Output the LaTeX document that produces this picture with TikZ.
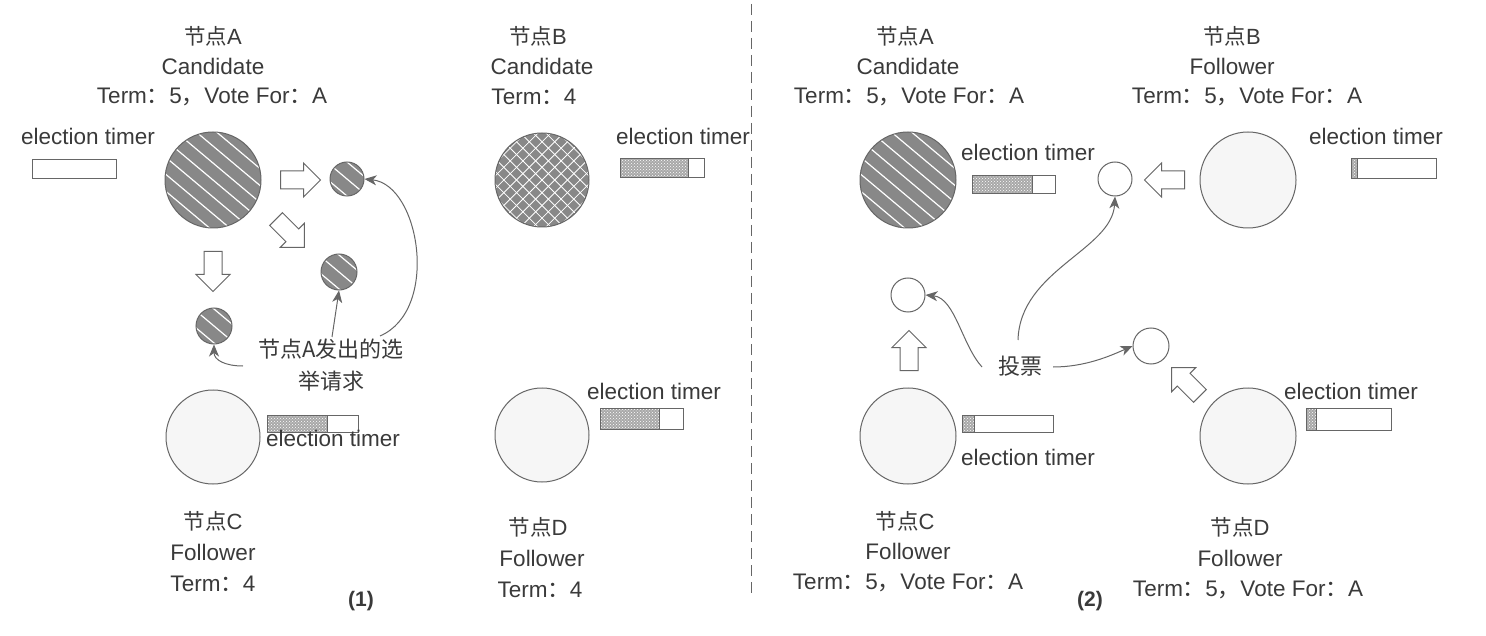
\documentclass[tikz,border=0pt]{standalone}
\usepackage{fontspec}
\setmainfont{Liberation Sans}
\newfontfamily\cjk{Noto Sans CJK SC}
\usetikzlibrary{shapes.arrows,arrows.meta,calc,patterns}
\definecolor{ink}{HTML}{3A3A3A}
\definecolor{edge}{HTML}{666666}
\definecolor{hatchgray}{HTML}{888888}
\definecolor{lightfill}{HTML}{F6F6F6}
\definecolor{barfill}{HTML}{A8A8A8}
\newcommand\zcolon{{\cjk ：}}
\newcommand\zcomma{{\cjk ，}}
\newcommand\jiedian{{\cjk\fontsize{21.5}{25}\selectfont 节点}}
\begin{document}
\begin{tikzpicture}[x=1pt,y=-1pt,
  txt/.style={text=ink, font=\fontsize{22.5}{26}\selectfont, inner sep=0pt},
  ttl/.style={text=ink, font=\fontsize{22}{25}\selectfont, inner sep=0pt},
  cn/.style={txt, font=\fontsize{22}{26}\selectfont\cjk},
  num/.style={text=ink, font=\fontsize{21}{24}\selectfont\bfseries, inner sep=0pt},
  hatched/.style={circle, draw=edge, line width=1pt, inner sep=0pt, minimum size=#1,
    path picture={
      \fill[hatchgray] (path picture bounding box.north west) rectangle (path picture bounding box.south east);
      \begin{scope}[shift={(path picture bounding box.center)}]
        \foreach \i in {-6,...,6}{
          \draw[white, line width=1.2pt] ({\i*13*(-0.643)-80*0.766},{\i*13*0.766-80*0.643}) -- ({\i*13*(-0.643)+80*0.766},{\i*13*0.766+80*0.643});
        }
      \end{scope}}},
  crossed/.style={circle, draw=edge, line width=1pt, inner sep=0pt, minimum size=#1,
    path picture={
      \fill[hatchgray] (path picture bounding box.north west) rectangle (path picture bounding box.south east);
      \begin{scope}[shift={(path picture bounding box.center)}]
        \foreach \i in {-8,...,8}{
          \draw[white, line width=0.8pt] ({\i*9*0.707-80*0.707},{\i*9*(-0.707)-80*0.707}) -- ({\i*9*0.707+80*0.707},{\i*9*(-0.707)+80*0.707});
          \draw[white, line width=0.8pt] ({\i*9*0.707-80*0.707},{\i*9*0.707+80*0.707}) -- ({\i*9*0.707+80*0.707},{\i*9*0.707-80*0.707});
        }
      \end{scope}}},
  plain/.style={circle, draw=edge, line width=1pt, fill=lightfill, inner sep=0pt, minimum size=#1},
  bar/.style={draw=edge, line width=1pt, fill=white, inner sep=0pt, minimum width=84pt, minimum height=19pt,
    path picture={
      \fill[barfill] (path picture bounding box.north west) rectangle ($(path picture bounding box.south west)!#1!(path picture bounding box.south east)$);
      \fill[pattern=crosshatch dots, pattern color=white] (path picture bounding box.north west) rectangle ($(path picture bounding box.south west)!#1!(path picture bounding box.south east)$);
      \draw[edge, line width=1pt] ($(path picture bounding box.north west)!#1!(path picture bounding box.north east)$) -- ($(path picture bounding box.south west)!#1!(path picture bounding box.south east)$);}},
  barrow/.style={single arrow, draw=edge, fill=white, line width=1pt, minimum height=40pt,
    single arrow head extend=8pt, single arrow head indent=0pt, inner xsep=0pt, inner ysep=8.5pt},
  conn/.style={draw=edge, line width=1pt, -{Stealth[length=12pt,width=10pt,inset=3.5pt]}},
]
\useasboundingbox (0,0) rectangle (1486,636);
\fill[white] (0,0) rectangle (1486,636);

% ---------- divider ----------
\coordinate (dtop) at (751,4);
\coordinate (dbot) at (751,598);
\draw[edge, line width=1pt, dash pattern=on 11pt off 6pt] (dtop) -- (dbot);

% ================= Panel (1) =================
\node[ttl] (a1t1) at (213,36) {\jiedian A};
\node[txt] (a1t2) at (213,66) {Candidate};
\node[txt] (a1t3) at (212,97) {Term\zcolon 5\zcomma Vote For\zcolon A};
\node[txt] (a1et) at (88,136) {election timer};
\node[bar=0] (a1bar) at (74,169.5) {};
\node[hatched=96pt] (A1) at (213,180) {};
\node[hatched=34pt] (s1) at (347,179) {};
\node[hatched=36pt] (s2) at (339,272) {};
\node[hatched=36pt] (s3) at (214,326) {};
\node[barrow] (ar1) at (296,180) {};
\node[barrow, rotate=-45] (ar2) at (287,230) {};
\node[barrow, rotate=-90] (ar3) at (213,267) {};

\node[cn, align=center] (req) at (331,365) {节点A发出的选\\[6pt]举请求};
\coordinate (rq1) at (243,366);
\coordinate (rq2) at (332,337);
\coordinate (rq3) at (380,336);
\draw[conn] (rq1) .. controls (225,366) and (214,360) .. (s3.south);
\draw[conn] (rq2) -- (s2.south);
\draw[conn] (rq3) .. controls (440,310) and (420,185) .. (s1.east);

\node[ttl] (b1t1) at (538,36) {\jiedian B};
\node[txt] (b1t2) at (542,66) {Candidate};
\node[txt] (b1t3) at (534,97) {Term\zcolon 4};
\node[crossed=94pt] (B1) at (542,180) {};
\node[txt] (b1et) at (683,136) {election timer};
\node[bar=0.81] (b1bar) at (662,168) {};

\node[plain=94pt] (C1) at (213,437) {};
\node[bar=0.66, minimum width=91pt, minimum height=17pt] (c1bar) at (312.5,423.5) {};
\node[txt] (c1et) at (333,438) {election timer};
\node[ttl] (c1t1) at (213,521) {\jiedian C};
\node[txt] (c1t2) at (213,552) {Follower};
\node[txt] (c1t3) at (213,584) {Term\zcolon 4};

\node[plain=94pt] (D1) at (542,435) {};
\node[txt] (d1et) at (654,391) {election timer};
\node[bar=0.72, minimum width=83pt, minimum height=21pt] (d1bar) at (641.5,418.5) {};
\node[ttl] (d1t1) at (538,527) {\jiedian D};
\node[txt] (d1t2) at (542,558) {Follower};
\node[txt] (d1t3) at (540,590) {Term\zcolon 4};

\node[num] (lab1) at (361,601) {(1)};

% ================= Panel (2) =================
\node[ttl] (a2t1) at (905,36) {\jiedian A};
\node[txt] (a2t2) at (908,66) {Candidate};
\node[txt] (a2t3) at (909,97) {Term\zcolon 5\zcomma Vote For\zcolon A};
\node[hatched=96pt] (A2) at (908,180) {};
\node[txt] (a2et) at (1028,152) {election timer};
\node[bar=0.73, minimum width=83pt, minimum height=18pt] (a2bar) at (1013.5,185) {};

\node[plain=34pt, fill=white] (t1) at (1115,179) {};
\node[barrow, rotate=180] (ar4) at (1169,180) {};
\node[plain=96pt] (B2) at (1248,180) {};
\node[txt] (b2et) at (1376,136) {election timer};
\node[bar=0.08, minimum width=85pt, minimum height=20pt] (b2bar) at (1393.5,169) {};
\node[ttl] (b2t1) at (1232,36) {\jiedian B};
\node[txt] (b2t2) at (1232,66) {Follower};
\node[txt] (b2t3) at (1247,97) {Term\zcolon 5\zcomma Vote For\zcolon A};

\node[plain=34pt, fill=white] (t2) at (908,295) {};
\node[barrow, rotate=90] (ar5) at (909,355) {};
\node[plain=96pt] (C2) at (908,436) {};
\node[bar=0.14, minimum width=91pt, minimum height=17pt] (c2bar) at (1007.5,423.5) {};
\node[txt] (c2et) at (1028,457) {election timer};
\node[ttl] (c2t1) at (905,521) {\jiedian C};
\node[txt] (c2t2) at (908,551) {Follower};
\node[txt] (c2t3) at (908,583) {Term\zcolon 5\zcomma Vote For\zcolon A};

\node[plain=36pt, fill=white] (t3) at (1151,346) {};
\node[barrow, rotate=135] (ar6) at (1189,385) {};
\node[plain=96pt] (D2) at (1248,436) {};
\node[txt] (d2et) at (1351,391) {election timer};
\node[bar=0.12, minimum width=85pt, minimum height=22pt] (d2bar) at (1348.5,419) {};
\node[ttl] (d2t1) at (1240,527) {\jiedian D};
\node[txt] (d2t2) at (1240,558) {Follower};
\node[txt] (d2t3) at (1248,590) {Term\zcolon 5\zcomma Vote For\zcolon A};

\node[cn] (vote) at (1020,366) {投票};
\coordinate (v1) at (982,367);
\coordinate (v2) at (1018,340);
\coordinate (v3) at (1053,367);
\draw[conn] (v1) .. controls (962,345) and (955,298) .. (t2.east);
\draw[conn] (v2) .. controls (1020,270) and (1112,250) .. (t1.south);
\draw[conn] (v3) .. controls (1085,367) and (1110,356) .. (t3.west);

\node[num] (lab2) at (1090,601) {(2)};
\end{tikzpicture}
\end{document}
